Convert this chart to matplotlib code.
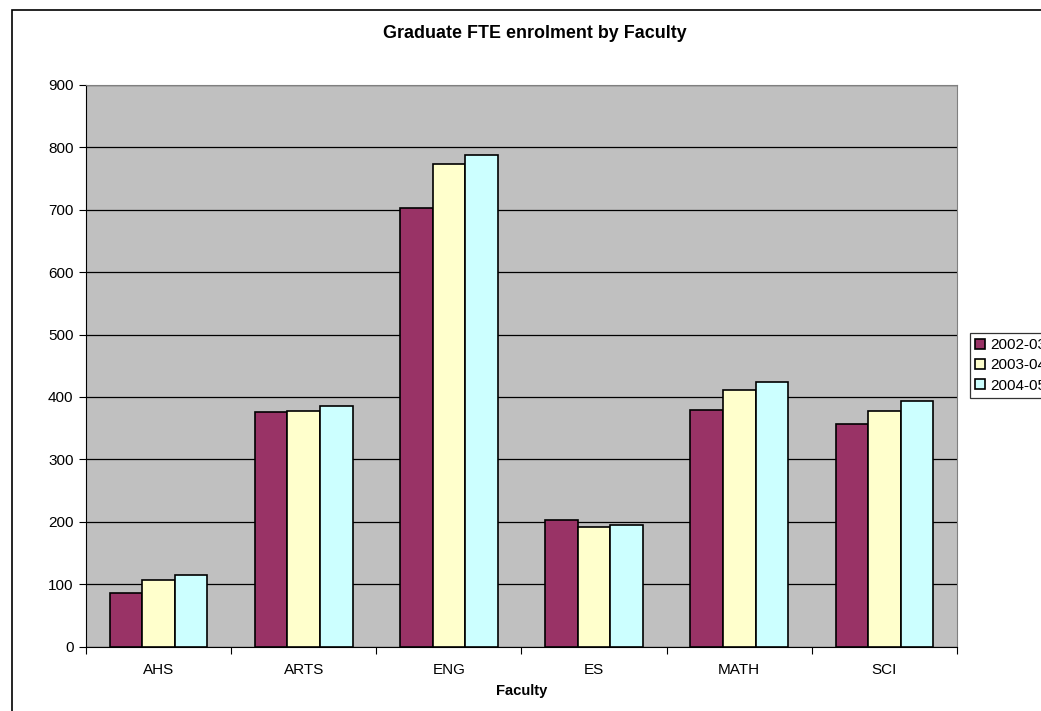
import numpy as np
import matplotlib.pyplot as plt
import matplotlib
from matplotlib.patches import Rectangle

faculties = ['AHS', 'ARTS', 'ENG', 'ES', 'MATH', 'SCI']
years = ['2002-03', '2003-04', '2004-05']
fte_2002 = [86, 376, 703, 202, 379, 357]
fte_2003 = [106, 378, 773, 191, 411, 378]
fte_2004 = [114, 385, 788, 195, 424, 394]

matplotlib.rcParams.update({'font.family': ['Liberation Sans', 'DejaVu Sans'], 'font.size': 11})

fig = plt.figure(figsize=(10.41, 7.11), dpi=100)
ax = fig.add_axes([86/1041, 1-646.5/711, (957-86)/1041, (646.5-85)/711])
ax.set_facecolor('#C0C0C0')

colors = ['#993366', '#FFFFCC', '#CCFFFF']
width = 0.224
ind = np.arange(len(faculties))
bars = []
for i, vals in enumerate([fte_2002, fte_2003, fte_2004]):
	b = ax.bar(ind + (i-1)*width, vals, width, color=colors[i], edgecolor='black', linewidth=1.2, zorder=3)
	bars.append(b)

ax.set_xlim(-0.5, len(faculties)-0.5)
ax.set_ylim(0, 900)
ax.set_yticks(range(0, 901, 100))
ax.yaxis.grid(True, color='black', linewidth=0.9, zorder=1)
ax.set_axisbelow(True)

ax.set_xticks(ind)
ax.set_xticklabels(faculties)
ax.set_xticks(np.arange(-0.5, len(faculties), 1), minor=True)
ax.tick_params(axis='x', which='major', length=0, pad=12)
ax.tick_params(axis='x', which='minor', length=5, width=0.8, direction='out')
ax.tick_params(axis='y', length=5, width=0.8, direction='out', pad=4)

for s in ['top', 'right']:
	ax.spines[s].set_color('#808080')
for s in ['left', 'bottom']:
	ax.spines[s].set_color('black')

ax.set_xlabel('Faculty', fontweight='bold', fontsize=10.6, labelpad=5)
fig.text(535/1041, 1-33/711, 'Graduate FTE enrolment by Faculty', ha='center', va='center', fontweight='bold', fontsize=12.9)

leg = fig.legend(bars, years, loc='upper left', bbox_to_anchor=(970/1041, 1-333/711), fontsize=11,
	frameon=True, fancybox=False, handlelength=0.65, handleheight=0.65, handletextpad=0.3,
	labelspacing=0.4, borderpad=0.35, borderaxespad=0)
leg.get_frame().set_edgecolor('black')
leg.get_frame().set_linewidth(0.9)

fig.add_artist(Rectangle((12/1041, -0.1), 1.2, 1.1-10/711, transform=fig.transFigure, fill=False, edgecolor='black', linewidth=1.2))

plt.savefig('out.png')
